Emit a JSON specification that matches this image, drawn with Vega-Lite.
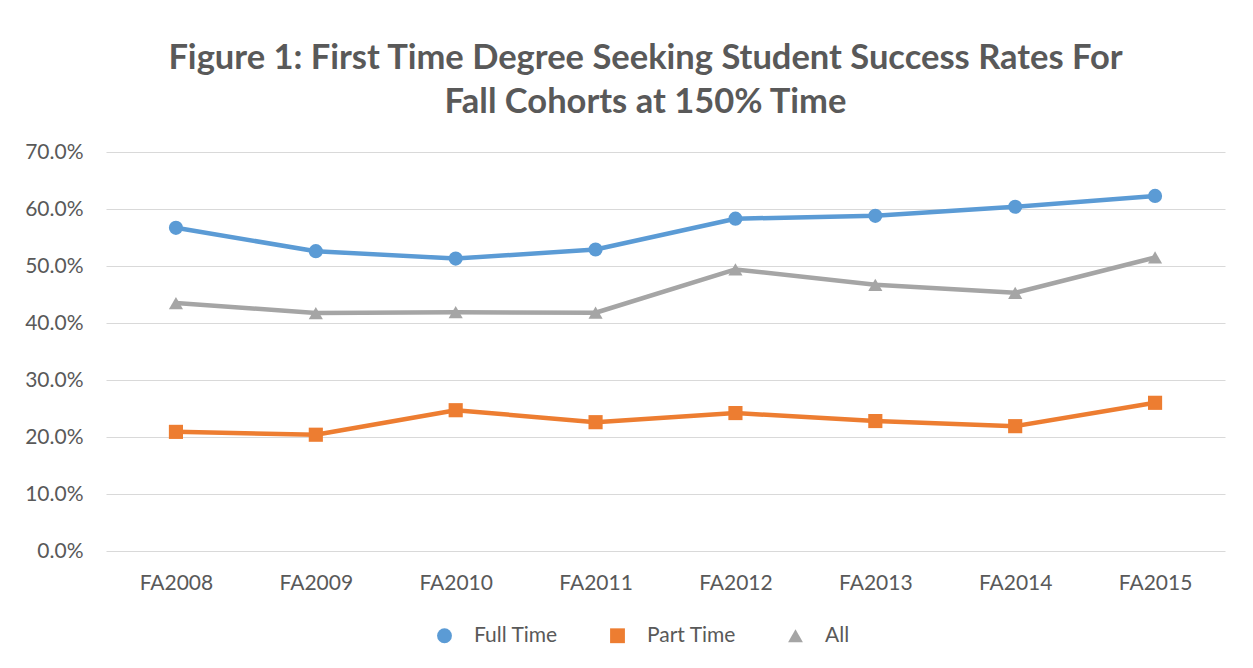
{
  "$schema": "https://vega.github.io/schema/vega-lite/v6.json",
  "autosize": "none",
  "width": 1119,
  "height": 399,
  "padding": {"left": 106, "top": 152, "right": 28, "bottom": 117},
  "background": "white",
  "title": {
    "text": ["Figure 1: First Time Degree Seeking Student Success Rates For", "Fall Cohorts at 150% Time"],
    "font": "Lato",
    "fontSize": 34.5,
    "fontWeight": "bold",
    "color": "#595959",
    "anchor": "middle",
    "frame": "group",
    "lineHeight": 44,
    "dx": -20,
    "offset": 21
  },
  "data": {
    "values": [
      {"cohort": "FA2008", "series": "Full Time", "rate": 0.567},
      {"cohort": "FA2009", "series": "Full Time", "rate": 0.526},
      {"cohort": "FA2010", "series": "Full Time", "rate": 0.513},
      {"cohort": "FA2011", "series": "Full Time", "rate": 0.529},
      {"cohort": "FA2012", "series": "Full Time", "rate": 0.583},
      {"cohort": "FA2013", "series": "Full Time", "rate": 0.588},
      {"cohort": "FA2014", "series": "Full Time", "rate": 0.604},
      {"cohort": "FA2015", "series": "Full Time", "rate": 0.623},
      {"cohort": "FA2008", "series": "Part Time", "rate": 0.209},
      {"cohort": "FA2009", "series": "Part Time", "rate": 0.204},
      {"cohort": "FA2010", "series": "Part Time", "rate": 0.247},
      {"cohort": "FA2011", "series": "Part Time", "rate": 0.226},
      {"cohort": "FA2012", "series": "Part Time", "rate": 0.242},
      {"cohort": "FA2013", "series": "Part Time", "rate": 0.228},
      {"cohort": "FA2014", "series": "Part Time", "rate": 0.219},
      {"cohort": "FA2015", "series": "Part Time", "rate": 0.260},
      {"cohort": "FA2008", "series": "All", "rate": 0.435},
      {"cohort": "FA2009", "series": "All", "rate": 0.4175},
      {"cohort": "FA2010", "series": "All", "rate": 0.419},
      {"cohort": "FA2011", "series": "All", "rate": 0.418},
      {"cohort": "FA2012", "series": "All", "rate": 0.494},
      {"cohort": "FA2013", "series": "All", "rate": 0.467},
      {"cohort": "FA2014", "series": "All", "rate": 0.453},
      {"cohort": "FA2015", "series": "All", "rate": 0.515}
    ]
  },
  "encoding": {
    "x": {
      "field": "cohort",
      "type": "ordinal",
      "title": null,
      "scale": {"type": "point", "padding": 0.5},
      "axis": {
        "labelAngle": 0,
        "labelFont": "Lato",
        "labelFontSize": 21,
        "labelColor": "#595959",
        "labelPadding": 21,
        "ticks": false,
        "domain": false,
        "grid": false
      }
    },
    "y": {
      "field": "rate",
      "type": "quantitative",
      "title": null,
      "scale": {"domain": [0, 0.7], "nice": false, "zero": true},
      "axis": {
        "values": [0, 0.1, 0.2, 0.3, 0.4, 0.5, 0.6, 0.7],
        "format": ".1%",
        "labelFont": "Lato",
        "labelFontSize": 21,
        "labelColor": "#595959",
        "labelPadding": 23,
        "ticks": false,
        "domain": false,
        "grid": true,
        "gridColor": "#D9D9D9",
        "gridWidth": 1.2
      }
    },
    "color": {
      "field": "series",
      "type": "nominal",
      "scale": {"domain": ["Full Time", "Part Time", "All"], "range": ["#5B9BD5", "#ED7D31", "#A5A5A5"]},
      "legend": {
        "title": null,
        "orient": "none",
        "direction": "horizontal",
        "legendX": 328,
        "legendY": 473,
        "symbolSize": 220,
        "symbolStrokeWidth": 0,
        "labelFont": "Lato",
        "labelFontSize": 21,
        "labelColor": "#595959",
        "labelOffset": 19,
        "columnPadding": 49
      }
    }
  },
  "layer": [
    {
      "mark": {"type": "line", "strokeWidth": 4.5, "strokeJoin": "round", "strokeCap": "round"}
    },
    {
      "mark": {"type": "point", "filled": true, "opacity": 1, "strokeWidth": 0},
      "encoding": {
        "shape": {
          "field": "series",
          "type": "nominal",
          "scale": {"domain": ["Full Time", "Part Time", "All"], "range": ["circle", "square", "triangle-up"]},
          "legend": null
        },
        "size": {"value": 200}
      }
    }
  ],
  "config": {
    "view": {"stroke": null}
  }
}
